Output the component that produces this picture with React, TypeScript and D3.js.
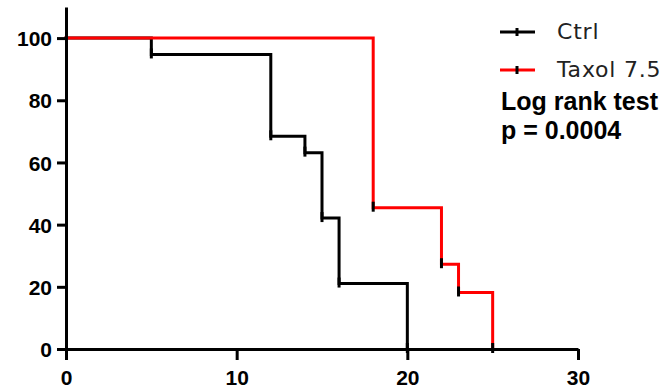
import React, { useEffect, useRef } from 'react';
import * as d3 from 'd3';

// Kaplan-Meier survival (percent)
const ctrlTimes = [0, 5, 12, 14, 15, 16, 20];
const ctrlSurvival = [100, 94.74, 68.42, 63.16, 42.11, 21.05, 0];

const taxolTimes = [0, 18, 22, 23, 25];
const taxolSurvival = [100, 45.45, 27.27, 18.18, 0];

const xTicks = [0, 10, 20, 30];
const yTicks = [0, 20, 40, 60, 80, 100];

const seriesNames = ['Ctrl', 'Taxol 7.5'];
const seriesColors = ['#000000', '#ff0000'];
const statLines = ['Log rank test', 'p = 0.0004'];

interface Pt {
  t: number;
  s: number;
}

const WIDTH = 669;
const HEIGHT = 389;

const App: React.FC = () => {
  const svgRef = useRef<SVGSVGElement>(null);

  useEffect(() => {
    if (!svgRef.current) return;
    const svg = d3.select(svgRef.current);
    svg.selectAll('*').remove();

    const x = d3.scaleLinear().domain([0, 30]).range([66, 578]);
    const y = d3.scaleLinear().domain([0, 110]).range([349, 7]);

    const series: Pt[][] = [
      ctrlTimes.map((t, i) => ({ t, s: ctrlSurvival[i] })),
      taxolTimes.map((t, i) => ({ t, s: taxolSurvival[i] })),
    ];

    const line = d3
      .line<Pt>()
      .x(d => x(d.t))
      .y(d => y(d.s))
      .curve(d3.curveStepAfter);

    series.forEach((data, i) => {
      svg
        .append('path')
        .datum(data)
        .attr('fill', 'none')
        .attr('stroke', seriesColors[i])
        .attr('stroke-width', 3)
        .attr('stroke-linejoin', 'miter')
        .attr('stroke-linecap', 'square')
        .attr('d', line);
    });

    // event ticks (black symbols)
    series.forEach(data => {
      svg
        .append('g')
        .selectAll('line')
        .data(data.slice(1))
        .join('line')
        .attr('x1', d => x(d.t))
        .attr('x2', d => x(d.t))
        .attr('y1', d => y(d.s) - 6)
        .attr('y2', d => y(d.s) + 4)
        .attr('stroke', '#000')
        .attr('stroke-width', 3);
    });

    // Axes
    const xAxis = svg
      .append('g')
      .attr('transform', `translate(0,${y(0)})`)
      .call(d3.axisBottom(x).tickValues(xTicks).tickSize(11).tickSizeOuter(0).tickPadding(6));

    const yAxis = svg
      .append('g')
      .attr('transform', `translate(${x(0)},0)`)
      .call(d3.axisLeft(y).tickValues(yTicks).tickSize(9).tickSizeOuter(0).tickPadding(5));

    [xAxis, yAxis].forEach(ax => {
      ax.select('.domain').attr('stroke', '#000').attr('stroke-width', 3);
      ax.selectAll('.tick line').attr('stroke', '#000').attr('stroke-width', 3);
      ax.selectAll('.tick text')
        .attr('fill', '#000')
        .attr('font-family', 'Liberation Sans, Arial, sans-serif')
        .attr('font-weight', 'bold')
        .attr('font-size', '21px');
    });
    xAxis.selectAll('.tick text').attr('dy', '0.9em');
    yAxis.selectAll('.tick text').attr('dy', '0.36em');

    // Legend
    const legendY = [32, 70];
    seriesNames.forEach((name, i) => {
      const g = svg.append('g');
      g.append('line')
        .attr('x1', 500)
        .attr('x2', 535)
        .attr('y1', legendY[i])
        .attr('y2', legendY[i])
        .attr('stroke', seriesColors[i])
        .attr('stroke-width', 3);
      g.append('line')
        .attr('x1', 517)
        .attr('x2', 517)
        .attr('y1', legendY[i] - 4)
        .attr('y2', legendY[i] + 4)
        .attr('stroke', '#000')
        .attr('stroke-width', 3);
      g.append('text')
        .attr('x', 557)
        .attr('y', legendY[i] + 7)
        .attr('font-family', 'DejaVu Sans, sans-serif')
        .attr('font-size', '22px')
        .attr('letter-spacing', '0.8px')
        .attr('fill', '#222')
        .text(name);
    });

    // Statistics
    statLines.forEach((t, i) => {
      svg
        .append('text')
        .attr('x', 501)
        .attr('y', 110 + i * 29)
        .attr('font-family', 'Liberation Sans, Arial, sans-serif')
        .attr('font-weight', 'bold')
        .attr('font-size', '25px')
        .attr('fill', '#000')
        .text(t);
    });
  }, []);

  return (
    <svg
      ref={svgRef}
      width={WIDTH}
      height={HEIGHT}
      style={{ position: 'absolute', left: 0, top: 0, background: '#fff' }}
    />
  );
};

export default App;
